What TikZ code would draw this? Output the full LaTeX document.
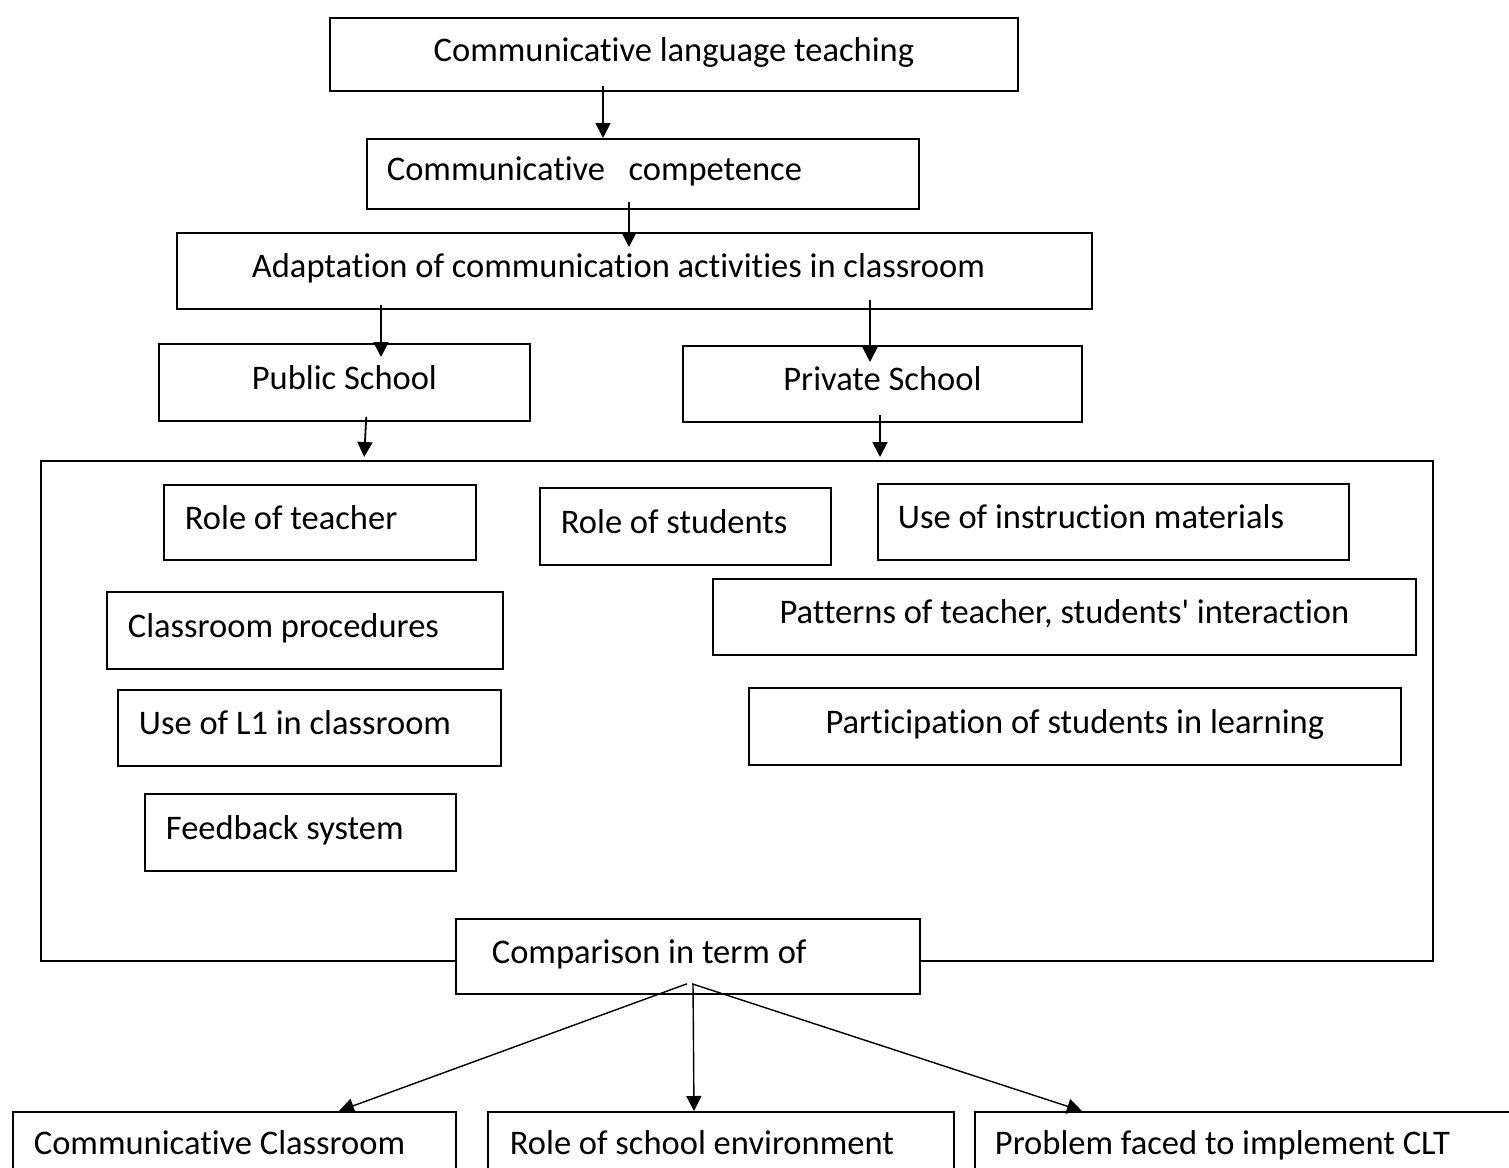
\documentclass[tikz,border=0pt]{standalone}
\usepackage{fontspec}
\setmainfont{Carlito}[Ligatures={NoCommon}]
\usetikzlibrary{arrows.meta}

\begin{document}
\begin{tikzpicture}[x=0.5pt,y=-0.5pt,
  every node/.style = {shape=rectangle, draw, line width=0.9pt,
    anchor=north west, inner ysep=0pt, text height=12pt, text depth=5pt,
    font=\fontsize{17.25}{20}\selectfont},
  mid/.style = {inner xsep=0pt, align=center},
  lpad/.style = {align=flush left, inner xsep=#1}, lpad/.default=10.5pt,
  arr/.style = {-{Triangle[length=7.5pt,width=7.5pt]}, line width=0.9pt},
  farr/.style = {-{Triangle[length=7.5pt,width=7.5pt]}, line width=0.7pt}]
  \path[use as bounding box, fill=white] (0,0) rectangle (1509,1167);
  \node[mid, minimum width=344pt, minimum height=36.5pt] (clt) at (329,17) {Communicative language teaching};
  \node[lpad=10pt, text width=256pt, minimum height=35pt] (cc) at (366,138) {Communicative\ \ \ competence};
  \node[lpad=37.5pt, text width=382.5pt, minimum height=38pt] (adapt) at (176,232) {Adaptation of communication activities in classroom};
  \node[mid, minimum width=185.5pt, minimum height=38.5pt] (pub) at (158,343) {Public School};
  \node[mid, minimum width=199.5pt, minimum height=38pt] (priv) at (682,345) {Private School};
  \node[inner sep=0pt, minimum width=696pt, minimum height=250pt] (frame) at (40,460) {};
  \node[lpad, text width=135pt, minimum height=37.5pt] (teacher) at (163,484) {Role of teacher};
  \node[lpad, text width=124.5pt, minimum height=38.5pt] (students) at (539,487) {Role of students};
  \node[lpad=10pt, text width=215.5pt, minimum height=38pt] (materials) at (877,483) {Use of instruction materials};
  \node[lpad, text width=177pt, minimum height=38.5pt] (procedures) at (106,591) {Classroom procedures};
  \node[mid, minimum width=351.5pt, minimum height=38pt] (patterns) at (712,578) {Patterns of teacher, students\textquotesingle{} interaction};
  \node[lpad, text width=170.5pt, minimum height=38pt] (lone) at (117,689) {Use of L1 in classroom};
  \node[mid, minimum width=326pt, minimum height=38.5pt] (participation) at (748,687) {Participation of students in learning};
  \node[lpad, text width=134.5pt, minimum height=38.5pt] (feedback) at (144,793) {Feedback system};
  \node[lpad=18pt, text width=196pt, minimum height=37.5pt, fill=white] (compare) at (455,918) {Comparison in term of};
  \node[lpad, text width=200.5pt, minimum height=36pt] (classroom) at (12,1111) {Communicative Classroom};
  \node[lpad=11pt, text width=211pt, minimum height=36pt] (environment) at (487,1111) {Role of school environment};
  \node[lpad=10pt, text width=253pt, minimum height=36pt] (problem) at (974,1111) {Problem faced to implement CLT};
  % arrows down the chain
  \draw[arr, shorten <=-3pt] (clt.south -| 603,0) -- (cc.north -| 603,0);
  \draw[arr, shorten <=-4pt, shorten >=-7.5pt] (cc.south -| 629,0) -- (adapt.north -| 629,0);
  \draw[arr, shorten <=-2.5pt, shorten >=-7pt] (adapt.south -| 381,0) -- (pub.north -| 381,0);
  \draw[arr, shorten <=-5pt, shorten >=-8.5pt] (adapt.south -| 870,0) -- (priv.north -| 870,0);
  \draw[arr, shorten <=-2.5pt, shorten >=1.5pt] (pub.south -| 366,0) -- (frame.north -| 364,0);
  \draw[arr, shorten <=-4pt, shorten >=1.5pt] (priv.south -| 880,0) -- (frame.north -| 880,0);
  % comparison
  \foreach \t/\s/\x in {classroom/687/339, environment/693/694, problem/692/1082}
    \draw[farr] (compare.south -| \s,0) ++(0,-11) -- (\t.north -| \x,0);
\end{tikzpicture}
\end{document}
